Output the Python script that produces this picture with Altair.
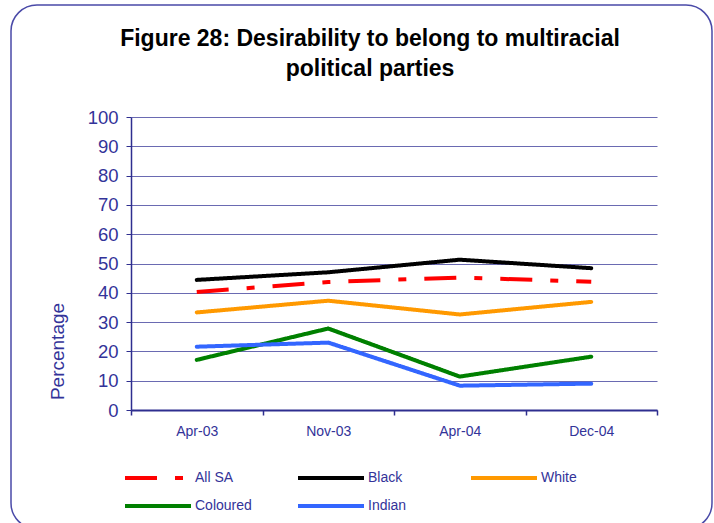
import altair as alt
import pandas as pd

# Survey rounds and population groups
surveys = ["Apr-03", "Nov-03", "Apr-04", "Dec-04"]
groups = ["All SA", "Black", "White", "Coloured", "Indian"]

# Percentage who would like to belong to a multiracial party
all_sa = [40.3, 43.7, 45.2, 43.8]
black = [44.4, 47.0, 51.3, 48.4]
white = [33.3, 37.3, 32.6, 36.9]
coloured = [17.1, 27.8, 11.4, 18.2]
indian = [21.6, 23.0, 8.3, 9.0]

title_lines = ["Figure 28: Desirability to belong to multiracial",
               "political parties"]

series = [all_sa, black, white, coloured, indian]
line_colors = ["#ff0000", "#000000", "#ff9900", "#008000", "#3366ff"]
line_dashes = [[32, 18, 8, 18], [1, 0], [1, 0], [1, 0], [1, 0]]

rows = []
for g, vals in zip(groups, series):
    for s, v in zip(surveys, vals):
        rows.append({"survey": s, "group": g, "pct": v})
df = pd.DataFrame(rows)

NAVY = "#2e2e8f"
TEXT = "#333399"

x_enc = alt.X(
    "survey:N",
    sort=surveys,
    scale=alt.Scale(paddingInner=0, paddingOuter=0),
    axis=alt.Axis(
        title=None, labelAngle=0, labelFontSize=14, labelColor=TEXT,
        labelFont="Liberation Sans", tickBand="extent", tickSize=5,
        tickColor=NAVY, tickWidth=1.5, domainColor=NAVY, domainWidth=2,
        labelPadding=9, grid=False,
    ),
)
y_enc = alt.Y(
    "pct:Q",
    scale=alt.Scale(domain=[0, 100], nice=False),
    axis=alt.Axis(
        values=list(range(0, 101, 10)), title="Percentage",
        titleFontSize=19, titleFontWeight="normal", titleColor=TEXT,
        titleFont="Liberation Sans", titleAngle=270, titleX=-74, titleY=234,
        titleAlign="center", titleBaseline="middle",
        labelFontSize=18.5, labelColor=TEXT, labelFont="Liberation Sans",
        labelPadding=8, tickSize=5, tickColor=NAVY, domainColor=NAVY,
        domainWidth=1.5, gridColor="#5a5aaa", gridWidth=1, gridOpacity=0.9,
    ),
)
color_enc = alt.Color(
    "group:N",
    scale=alt.Scale(domain=groups, range=line_colors),
    legend=alt.Legend(title=None),
)
dash_enc = alt.StrokeDash(
    "group:N",
    scale=alt.Scale(domain=groups, range=line_dashes),
    legend=alt.Legend(title=None),
)

dashed = (
    alt.Chart(df)
    .transform_filter(alt.datum.group == "All SA")
    .mark_line(strokeWidth=4, strokeCap="butt")
    .encode(x=x_enc, y=y_enc, color=color_enc, strokeDash=dash_enc)
)
solid = (
    alt.Chart(df)
    .transform_filter(alt.datum.group != "All SA")
    .mark_line(strokeWidth=4, strokeCap="round", strokeJoin="round")
    .encode(x=x_enc, y=y_enc, color=color_enc, strokeDash=dash_enc,
            detail="group:N")
)

# Rounded frame around the whole figure
frame = (
    alt.Chart(pd.DataFrame({"k": [0]}))
    .mark_rect(fill=None, stroke="#4a4aa8", strokeWidth=1.5,
               cornerRadius=26, clip=False)
    .encode(x=alt.value(-120), x2=alt.value(581),
            y=alt.value(-112), y2=alt.value(412))
)

# Two-line bold heading above the plot
heading = (
    alt.Chart(pd.DataFrame({"line": ["\n".join(title_lines)]}))
    .mark_text(font="Liberation Sans", fontSize=23, fontWeight="bold",
               color="#000000", align="center", baseline="alphabetic",
               lineBreak="\n", lineHeight=30, clip=False)
    .encode(text="line:N", x=alt.value(239), y=alt.value(-71))
)

chart = (
    alt.layer(frame, heading, dashed, solid)
    .properties(
        width=526, height=293,
        autosize=alt.AutoSizeParams(type="none"),
        padding={"left": 131, "top": 117, "right": 57, "bottom": 113},
    )
    .configure_view(stroke=None)
    .configure_legend(
        orient="none", legendX=-8, legendY=353, columns=3, gridAlign="all",
        direction="horizontal", clipHeight=16,
        columnPadding=44, rowPadding=12, symbolType="stroke",
        symbolSize=4356, symbolStrokeWidth=4, labelFontSize=14,
        labelColor=TEXT, labelFont="Liberation Sans", labelOffset=2,
    )
)

chart.save("out.html", embed_options={"renderer": "svg", "actions": False})
